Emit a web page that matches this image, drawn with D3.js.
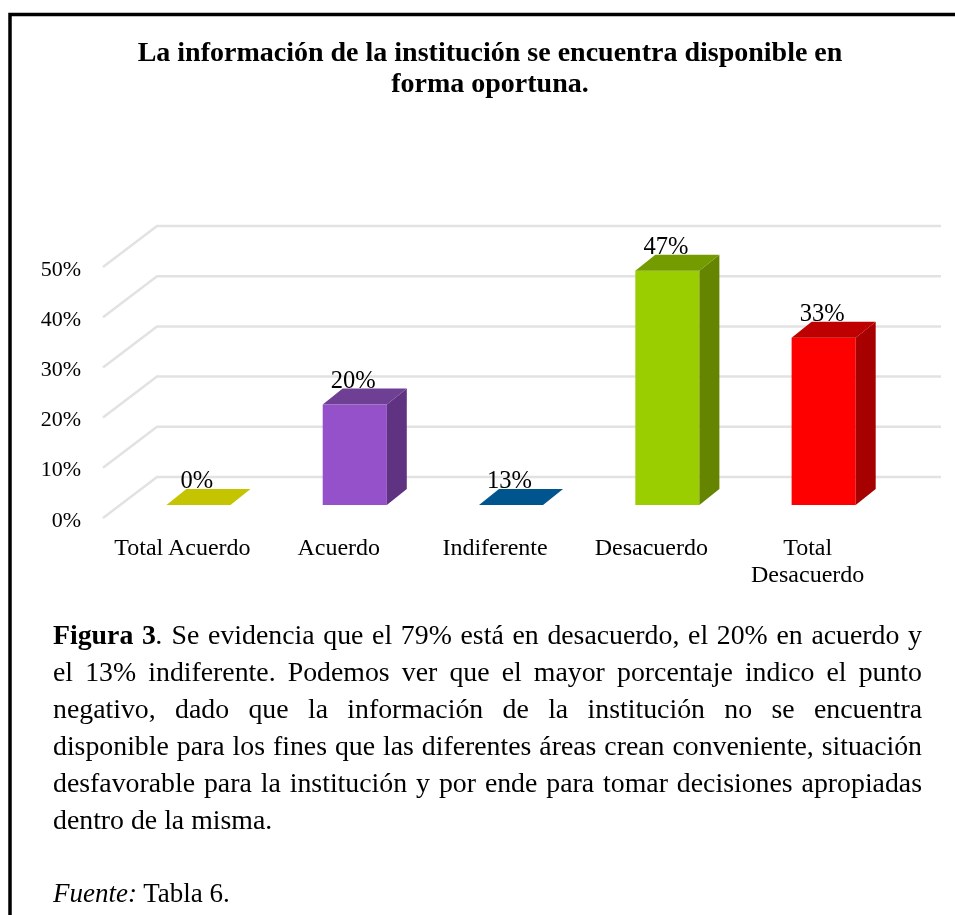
<!DOCTYPE html>
<html>
<head>
<meta charset="utf-8">
<script src="https://cdn.jsdelivr.net/npm/d3@7"></script>
<style>
  html, body { margin: 0; padding: 0; background: #fff; overflow: hidden; }
  body { width: 955px; height: 915px; position: relative; font-family: "Liberation Serif", serif; color: #000; filter: blur(0.35px); }
  svg { position: absolute; left: 0; top: 0; }
  .line { position: absolute; left: 53px; width: 869px; font-size: 27.8px; line-height: 30px; white-space: nowrap; text-align: justify; text-align-last: justify; }
  .last { text-align-last: left; }
</style>
</head>
<body>
<script>
// data
var categories = ["Total Acuerdo", "Acuerdo", "Indiferente", "Desacuerdo", "Total Desacuerdo"];
var values = [0, 20, 0, 46.67, 33.33];
var valueLabels = ["0%", "20%", "13%", "47%", "33%"];
var yTicks = [0, 10, 20, 30, 40, 50];
var frontColors = ["#d4d400", "#9551c9", "#00639f", "#9bce00", "#ff0000"];
var sideColors = ["#a3a300", "#5f3382", "#004a78", "#658400", "#a60000"];
var topColors = ["#c4c400", "#6f3f96", "#00558f", "#749b00", "#bf0000"];
var titleLines = ["La información de la institución se encuentra disponible en", "forma oportuna."];
var textLines = [
  "<b>Figura 3</b><i>.</i> Se evidencia que el 79% está en desacuerdo, el 20% en acuerdo y",
  "el 13% indiferente. Podemos ver que el mayor porcentaje indico el punto",
  "negativo, dado que la información de la institución no se encuentra",
  "disponible para los fines que las diferentes áreas crean conveniente, situación",
  "desfavorable para la institución y por ende para tomar decisiones apropiadas"
];
var lastLine = "dentro de la misma.";
var sourceLine = "<i>Fuente:</i> Tabla 6.";

var dim = { w: 955, h: 915, floorY: 518, left: 103, right: 941, depthX: 54, depthY: 41, barOffX: 16, barOffY: 13, barDepthX: 20, barDepthY: 16 };

var svg = d3.select("body").append("svg").attr("width", dim.w).attr("height", dim.h);

// frame, open on the right and at the bottom
svg.append("path")
  .attr("d", "M10,915V14.5H955")
  .attr("fill", "none")
  .attr("stroke", "#000")
  .attr("stroke-width", 3.5);

// title
svg.append("g").selectAll("text")
  .data(titleLines)
  .enter()
  .append("text")
  .attr("x", 490)
  .attr("y", function(d, i) { return 61 + i * 31; })
  .attr("text-anchor", "middle")
  .attr("font-weight", "bold")
  .attr("font-size", 28)
  .text(function(d) { return d; });

var yScale = d3.scaleLinear().domain([0, 50]).range([dim.floorY, 267]);
var xScale = d3.scaleBand()
  .domain(categories)
  .range([104.3, 885.8])
  .paddingInner(0.59)
  .paddingOuter(0.295);

// grid lines, front edge to back wall
svg.append("g").selectAll("path")
  .data(yTicks)
  .enter()
  .append("path")
  .attr("d", function(d) {
    var y = yScale(d);
    return "M" + dim.left + "," + y + "L" + (dim.left + dim.depthX) + "," + (y - dim.depthY) + "H" + dim.right;
  })
  .attr("fill", "none")
  .attr("stroke", "#e2e2e2")
  .attr("stroke-width", 2.5);

// y axis
var yAxis = d3.axisLeft(yScale)
  .tickValues(yTicks)
  .tickFormat(function(d) { return d + "%"; })
  .tickSize(0)
  .tickPadding(0);
var yG = svg.append("g")
  .attr("transform", "translate(81,1)")
  .call(yAxis);
yG.select(".domain").remove();
yG.selectAll("text")
  .attr("font-family", "Liberation Serif")
  .attr("font-size", 22)
  .attr("fill", "#000");

// x axis
var xAxis = d3.axisBottom(xScale).tickSize(0).tickPadding(0).tickFormat("");
var xG = svg.append("g")
  .attr("transform", "translate(0,532)")
  .call(xAxis);
xG.select(".domain").remove();
xG.selectAll(".tick").select("text").each(function(d) {
  var words = d === "Total Desacuerdo" ? d.split(" ") : [d];
  var t = d3.select(this)
    .attr("font-family", "Liberation Serif")
    .attr("font-size", 24)
    .attr("fill", "#000")
    .attr("y", 22.5)
    .attr("dy", 0);
  t.selectAll("tspan")
    .data(words)
    .enter()
    .append("tspan")
    .attr("x", 0)
    .attr("y", function(w, i) { return 22.5 + i * 27; })
    .text(function(w) { return w; });
});

// bars, three faces each
var bars = svg.append("g").selectAll("g")
  .data(values)
  .enter()
  .append("g")
  .attr("transform", function(d, i) {
    return "translate(" + (xScale(categories[i]) + dim.barOffX) + "," + (-dim.barOffY) + ")";
  });
var bw = xScale.bandwidth();
var base = yScale(0);

bars.append("rect")
  .attr("x", 0)
  .attr("y", function(d) { return yScale(d); })
  .attr("width", bw)
  .attr("height", function(d) { return base - yScale(d); })
  .attr("fill", function(d, i) { return frontColors[i]; });
bars.append("path")
  .attr("d", function(d) {
    var y = yScale(d);
    return "M" + bw + "," + y + "l" + dim.barDepthX + "," + (-dim.barDepthY) + "V" + (base - dim.barDepthY) + "L" + bw + "," + base + "Z";
  })
  .attr("fill", function(d, i) { return sideColors[i]; });
bars.append("path")
  .attr("d", function(d) {
    var y = yScale(d);
    return "M0," + y + "l" + dim.barDepthX + "," + (-dim.barDepthY) + "h" + bw + "l" + (-dim.barDepthX) + "," + dim.barDepthY + "Z";
  })
  .attr("fill", function(d, i) { return topColors[i]; });

// value labels
bars.append("text")
  .attr("x", bw / 2 - 1.5)
  .attr("y", function(d) { return yScale(d) - 17; })
  .attr("text-anchor", "middle")
  .attr("font-size", 24.5)
  .attr("fill", "#000")
  .text(function(d, i) { return valueLabels[i]; });

// paragraph below the chart
d3.select("body").selectAll("div.line")
  .data(textLines)
  .enter()
  .append("div")
  .attr("class", "line")
  .style("top", function(d, i) { return (619.5 + i * 37.1) + "px"; })
  .html(function(d) { return d; });

d3.select("body").append("div")
  .attr("class", "line last")
  .style("top", "805px")
  .text(lastLine);

d3.select("body").append("div")
  .attr("class", "line last")
  .style("top", "878px")
  .style("font-size", "27px")
  .html(sourceLine);
</script>
</body>
</html>
